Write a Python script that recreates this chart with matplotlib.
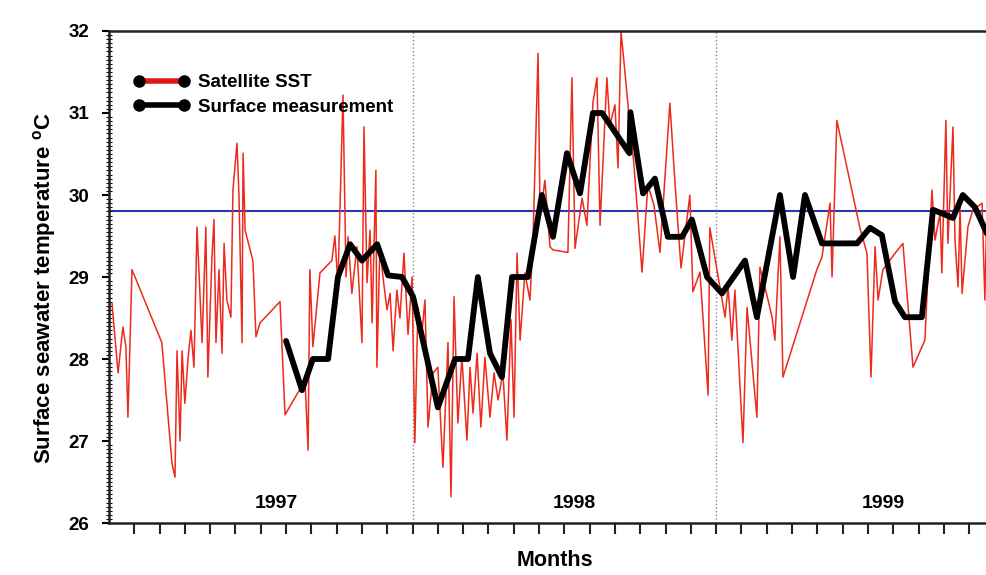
import numpy as np
import matplotlib
matplotlib.use("Agg")
import matplotlib.pyplot as plt
from matplotlib.lines import Line2D
from matplotlib.ticker import MultipleLocator

plt.rcParams['font.family'] = ['Liberation Sans', 'DejaVu Sans']
plt.rcParams['font.weight'] = 'bold'

# satellite SST (month index from Jan 1997, degC)
sat_month = [0.12, 0.36, 0.55, 0.67, 0.75, 0.91, 2.09, 2.49, 2.61, 2.69, 2.81, 2.89,
             3.00, 3.12, 3.24, 3.36, 3.48, 3.68, 3.83, 3.91, 4.07, 4.15, 4.23, 4.35,
             4.47, 4.55, 4.66, 4.82, 4.90, 5.06, 5.14, 5.26, 5.30, 5.38, 5.69, 5.81,
             5.97, 6.76, 6.96, 7.75, 7.87, 7.94, 8.06, 8.34, 8.81, 8.93, 9.05, 9.25,
             9.37, 9.45, 9.60, 9.80, 10.00, 10.08, 10.20, 10.32, 10.40, 10.55, 10.59,
             10.71, 10.83, 10.99, 11.11, 11.23, 11.38, 11.50, 11.66, 11.82, 11.98,
             12.09, 12.21, 12.37, 12.49, 12.61, 12.81, 13.00, 13.20, 13.40, 13.52,
             13.64, 13.79, 13.95, 14.15, 14.27, 14.39, 14.55, 14.70, 14.86, 15.06,
             15.22, 15.38, 15.57, 15.73, 15.89, 16.01, 16.13, 16.25, 16.44, 16.64,
             16.76, 16.96, 17.04, 17.23, 17.43, 17.55, 18.14, 18.30, 18.42, 18.70,
             18.89, 19.13, 19.29, 19.41, 19.68, 19.80, 20.00, 20.12, 20.24, 20.32,
             20.59, 20.75, 21.07, 21.30, 21.54, 21.78, 22.17, 22.37, 22.61, 22.96,
             23.08, 23.36, 23.68, 23.75, 24.03, 24.35, 24.47, 24.62, 24.74, 25.06,
             25.22, 25.61, 25.73, 26.05, 26.21, 26.32, 26.52, 26.64, 27.98, 28.18,
             28.50, 28.58, 28.77, 29.68, 29.96, 30.12, 30.28, 30.40, 30.59, 31.07,
             31.38, 31.78, 32.25, 32.53, 32.65, 32.85, 32.92, 33.08, 33.16, 33.36,
             33.44, 33.56, 33.64, 33.72, 33.95, 34.15, 34.51, 34.62, 34.70, 34.90]
sat_temp = [28.68, 27.83, 28.39, 28.15, 27.29, 29.09, 28.20, 26.73, 26.56, 28.10, 27.00, 28.10,
            27.46, 27.99, 28.35, 27.90, 29.61, 28.20, 29.61, 27.78, 29.24, 29.70, 28.20, 29.09,
            28.07, 29.41, 28.72, 28.51, 30.06, 30.63, 29.98, 28.20, 30.51, 29.57, 29.20, 28.27,
            28.44, 28.70, 27.32, 27.74, 26.89, 29.09, 28.15, 29.05, 29.20, 29.50, 28.90, 31.22,
            29.00, 29.49, 28.80, 29.37, 28.20, 30.83, 28.93, 29.57, 28.44, 30.30, 27.90,
            29.37, 29.00, 28.60, 28.80, 28.10, 28.84, 28.50, 29.29, 28.30, 29.00,
            26.98, 28.63, 28.32, 28.72, 27.17, 27.83, 27.90, 26.68, 28.20, 26.32,
            28.76, 27.22, 28.02, 27.01, 27.90, 27.34, 28.07, 27.17, 28.02, 27.29,
            27.83, 27.50, 27.83, 27.01, 28.48, 27.29, 29.29, 28.23, 29.05, 28.72,
            29.45, 31.73, 29.73, 30.18, 29.37, 29.33, 29.30, 31.43, 29.35, 29.96,
            29.63, 31.13, 31.43, 29.63, 31.43, 30.85, 31.10, 30.33, 31.99, 31.74,
            30.85, 30.37, 29.06, 30.12, 29.88, 29.30, 31.12, 30.16, 29.11, 30.00,
            28.82, 29.06, 27.56, 29.60, 29.09, 28.51, 28.88, 28.23, 28.84, 26.98,
            28.63, 27.29, 29.12, 28.72, 28.51, 28.23, 29.49, 27.78, 29.09, 29.24,
            29.90, 29.00, 30.91, 29.60, 29.29, 27.78, 29.37, 28.72, 29.09, 29.29,
            29.41, 27.90, 28.23, 30.06, 29.45, 29.78, 29.05, 30.91, 29.41, 30.83,
            29.45, 28.88, 29.85, 28.80, 29.61, 29.82, 29.90, 28.72, 29.82, 29.00]

# surface measurement
surf_month = [7.00, 7.63, 8.06, 8.66, 9.05, 9.53, 10.00, 10.60, 11.03, 11.58, 12.02,
              13.00, 13.68, 14.19, 14.58, 15.06, 15.53, 15.93, 16.56, 17.11, 17.55,
              18.10, 18.62, 19.13, 19.49, 20.57, 20.61, 21.11, 21.58, 22.09, 22.65,
              23.04, 23.64, 24.23, 25.14, 25.61, 26.52, 27.04, 27.51, 28.18, 29.57,
              30.08, 30.55, 31.07, 31.46, 32.13, 32.57, 33.36, 33.75, 34.23, 34.82]
surf_temp = [28.22, 27.62, 28.00, 28.00, 29.00, 29.40, 29.20, 29.40, 29.02, 29.00, 28.76,
             27.41, 28.00, 28.00, 29.00, 28.07, 27.78, 29.00, 29.00, 30.00, 29.49,
             30.51, 30.02, 31.00, 31.00, 30.51, 31.01, 30.02, 30.20, 29.49, 29.49,
             29.70, 29.00, 28.80, 29.20, 28.51, 30.00, 29.00, 30.00, 29.41, 29.41,
             29.60, 29.51, 28.70, 28.51, 28.51, 29.82, 29.72, 30.00, 29.85, 29.45]

threshold = 29.8
years = ['1997', '1998', '1999']
year_pos = [6.6, 18.4, 30.6]

fig = plt.figure(figsize=(9.87, 5.75), dpi=100)
ax = fig.add_axes([0.1104, 0.0904, 0.9228, 0.8557])

ax.plot(sat_month, sat_temp, color='#ee2a1c', lw=1.1, zorder=2)
ax.plot(surf_month, surf_temp, color='black', lw=4.2, solid_joinstyle='round',
        solid_capstyle='round', zorder=3)
ax.axhline(threshold, color='#2a35b0', lw=1.5, zorder=1)
for yb in [12, 24]:
    ax.axvline(yb, color='#888888', lw=1.0, ls=':', zorder=1)

for lab, xp in zip(years, year_pos):
    ax.text(xp, 26.24, lab, ha='center', va='center', fontsize=14, fontweight='bold')

ax.set_xlim(0, 36)
ax.set_ylim(26, 32)
ax.set_xticks(np.arange(1, 37))
ax.set_xticklabels([])
ax.set_yticks(np.arange(26, 33))
ax.yaxis.set_minor_locator(MultipleLocator(0.05))
ax.tick_params(axis='x', direction='out', length=8, width=1.5, color='#222222')
ax.tick_params(axis='y', which='major', direction='out', length=5, width=1.5,
               labelsize=13.5, pad=9)
ax.tick_params(axis='y', which='minor', direction='inout', length=4, width=0.8)
for lbl in ax.get_yticklabels():
    lbl.set_fontweight('bold')

for s in ['left', 'bottom', 'top']:
    ax.spines[s].set_linewidth(1.8)
    ax.spines[s].set_color('#222222')
ax.spines['right'].set_visible(False)

handles = [Line2D([], [], color='#e01818', lw=4, marker='o', ms=8,
                  mfc='black', mec='black'),
           Line2D([], [], color='black', lw=4, marker='o', ms=8,
                  mfc='black', mec='black')]
ax.legend(handles, ['Satellite SST', 'Surface measurement'], loc='upper left',
          bbox_to_anchor=(0.027, 0.912), frameon=False, numpoints=2,
          handlelength=3.0, handletextpad=0.45, labelspacing=0.4,
          borderpad=0, borderaxespad=0,
          prop={'weight': 'bold', 'size': 13.5})

fig.text(45 / 987, 1 - 288 / 575, 'Surface seawater temperature $\\mathregular{^{o}}$C',
         rotation=90, ha='center', va='center', fontsize=16, fontweight='bold')
fig.text(555 / 987, 15 / 575, 'Months', ha='center', va='center',
         fontsize=15.5, fontweight='bold')

fig.savefig('out.png', dpi=100)
